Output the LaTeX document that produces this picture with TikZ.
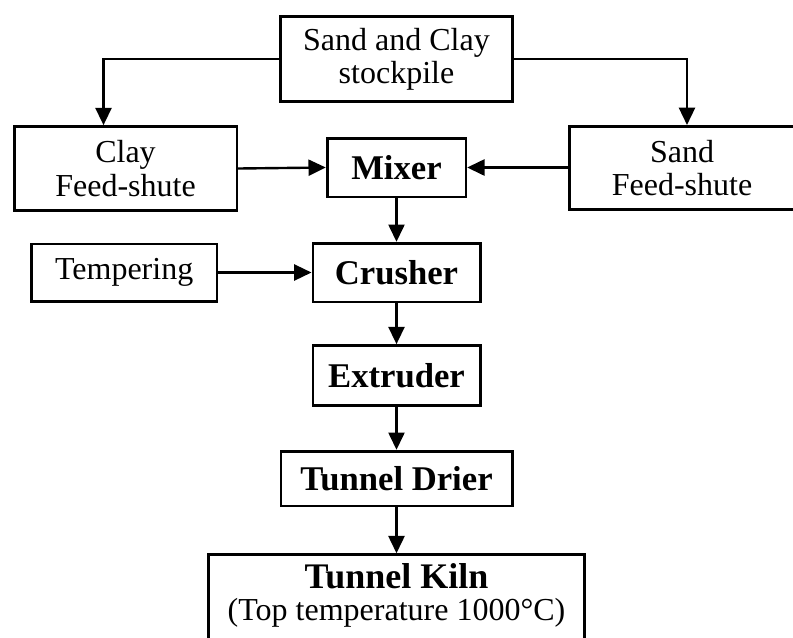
\documentclass[tikz,border=0pt]{standalone}
\usepackage{fontspec}
\setmainfont{Liberation Serif}
\usetikzlibrary{arrows.meta, positioning}

\begin{document}
\begin{tikzpicture}[
    x=0.75pt, y=-0.75pt,
    procbox/.style={rectangle, draw=black, line width=2pt, align=center, inner sep=0pt,
        font=\fontsize{24}{25}\selectfont},
    mainbox/.style={procbox, font=\bfseries\fontsize{26}{28}\selectfont},
    arrow/.style={-{Triangle[length=13pt, width=12pt]}, line width=1.8pt}
]
    \clip (0,0) rectangle (793,637);

    % Raw material
    \node[procbox, minimum width=174pt, minimum height=64pt] (stock) at (396.5,59) {Sand and Clay\\stockpile};
    \node[procbox, minimum width=167pt, minimum height=63pt] (clay)  at (125.5,168.5) {Clay\\Feed-shute};
    \node[procbox, minimum width=169pt, minimum height=62.5pt] (sand) at (682,168) {Sand\\Feed-shute};

    % Process line
    \node[mainbox, minimum width=104pt, minimum height=44pt] (mixer) at (396.5,167.5) {Mixer};
    \node[mainbox, minimum width=125.5pt, minimum height=44pt] (crusher) at (396.5,272.5) {Crusher};
    \node[mainbox, minimum width=125.5pt, minimum height=45pt] (extruder) at (396.5,375.5) {Extruder};
    \node[mainbox, minimum width=173.5pt, minimum height=41pt] (drier) at (396.5,478.5) {Tunnel Drier};
    \node[procbox, minimum width=282pt, inner ysep=7pt, font=\fontsize{24}{24}\selectfont,
        anchor=north] (kiln) at (396.5,553.3)
        {{\bfseries\fontsize{27}{24}\selectfont Tunnel Kiln}\\
         (Top temperature 1000°C)\rule[-60pt]{0pt}{1pt}};

    % Additive
    \node[procbox, minimum width=139pt, minimum height=43pt, left=70pt of crusher] (temper) {Tempering};

    % Arrows
    \draw[arrow] (stock.west) -| ([xshift=-16.5pt]clay.north);
    \draw[arrow] (stock.east) -| ([xshift=3.75pt]sand.north);
    \draw[arrow] (clay.east) -- (mixer.west);
    \draw[arrow] (sand.west |- mixer.east) -- (mixer.east);
    \draw[arrow] (temper.east) -- (crusher.west);
    \draw[arrow] (mixer) -- (crusher);
    \draw[arrow] (crusher) -- (extruder);
    \draw[arrow] (extruder) -- (drier);
    \draw[arrow] (drier) -- (kiln);

\end{tikzpicture}
\end{document}
